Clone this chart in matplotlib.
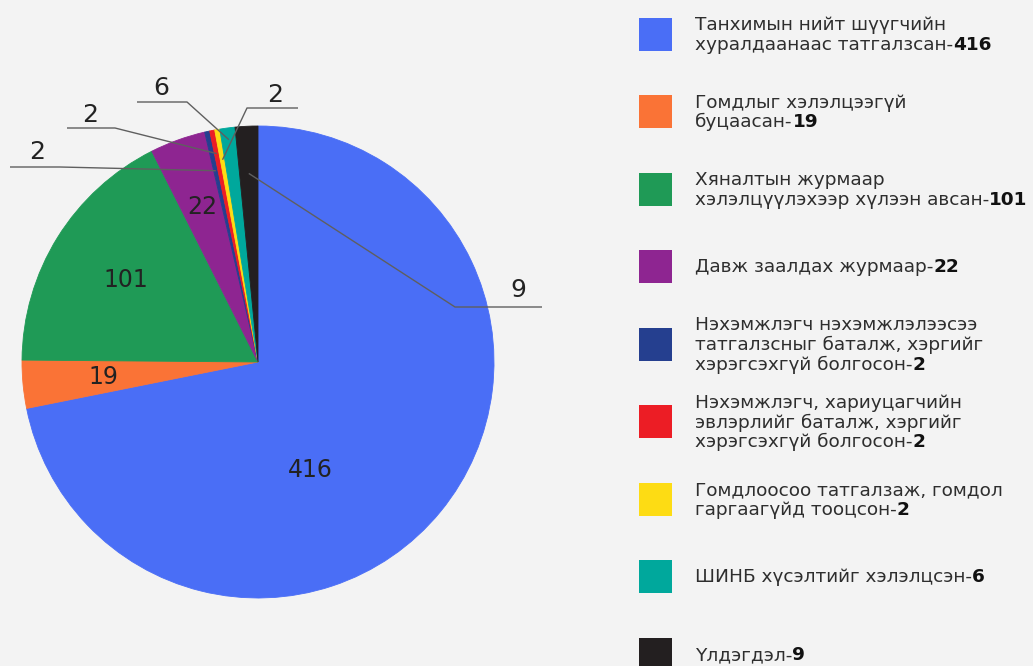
import matplotlib
matplotlib.use('Agg')
import matplotlib.pyplot as plt
import numpy as np

# Chart data
values = [416, 19, 101, 22, 2, 2, 2, 6, 9]
colors = ['#4a6ef6', '#fa7336', '#1f9a56', '#8e2591', '#253f8f',
          '#ec1d25', '#fddc14', '#00a89c', '#231f20']
legend_lines = [
    ['Танхимын нийт шүүгчийн', 'хуралдаанаас татгалзсан-'],
    ['Гомдлыг хэлэлцээгүй', 'буцаасан-'],
    ['Хяналтын журмаар', 'хэлэлцүүлэхээр хүлээн авсан-'],
    ['Давж заалдах журмаар-'],
    ['Нэхэмжлэгч нэхэмжлэлээсээ', 'татгалзсныг баталж, хэргийг', 'хэрэгсэхгүй болгосон-'],
    ['Нэхэмжлэгч, хариуцагчийн', 'эвлэрлийг баталж, хэргийг', 'хэрэгсэхгүй болгосон-'],
    ['Гомдлоосоо татгалзаж, гомдол', 'гаргаагүйд тооцсон-'],
    ['ШИНБ хүсэлтийг хэлэлцсэн-'],
    ['Үлдэгдэл-'],
]
labels = [str(v) for v in values]

W, H = 1033, 666
BG = '#f3f3f3'
TXT = '#2e2e2e'

fig = plt.figure(figsize=(W / 100, H / 100), dpi=100, facecolor=BG)
ax = fig.add_axes([0, 0, 1, 1])
ax.set_facecolor(BG)

# pie in pixel units (y up)
cx, cy, R = 258, H - 362, 236
wedges, _ = ax.pie(values, colors=colors, startangle=90, counterclock=False,
                   radius=R, center=(cx, cy))
for w, c in zip(wedges, colors):
    w.set_edgecolor(c)
    w.set_linewidth(0.6)
ax.set_xlim(0, W)
ax.set_ylim(0, H)
ax.set_aspect('equal')
ax.axis('off')


def polar(theta_deg, r):
    t = np.deg2rad(theta_deg)
    return cx + r * np.cos(t), cy + r * np.sin(t)


# inside labels: index -> (radius fraction, angle shift from wedge middle)
inside = {0: (0.51, -25), 1: (0.66, 0), 2: (0.66, 0), 3: (0.70, 0)}
for i, (frac, shift) in inside.items():
    w = wedges[i]
    mid = (w.theta1 + w.theta2) / 2 + shift
    x, y = polar(mid, R * frac)
    ax.text(x, y, labels[i], ha='center', va='center', fontsize=17, color='#222222')

# outside labels with leader lines: index -> (text x, text y, hline x0, hline x1, hline y, anchor r frac)
outside = {
    4: (37, 152, 10, 60, 167, 0.83),
    5: (90, 115, 67, 115, 128, 0.90),
    7: (161, 88, 137, 187, 102, 0.95),
    6: (275, 95, 298, 247, 108, 0.87),
    8: (518, 290, 542, 455, 307, 0.80),
}
for i, (tx, ty, x0, x1, hy, frac) in outside.items():
    w = wedges[i]
    mid = (w.theta1 + w.theta2) / 2
    axp, ayp = polar(mid, R * frac)
    ax.plot([x0, x1, axp], [H - hy, H - hy, ayp], color='#5f5f5f', lw=1.0,
            solid_capstyle='butt', zorder=5)
    ax.text(tx, H - ty, labels[i], ha='center', va='center', fontsize=18, color='#222222')

# legend
renderer = fig.canvas.get_renderer()
sq = 33
lx, tx0 = 639, 695
for k, (lines, col) in enumerate(zip(legend_lines, colors)):
    yc = 34 + 77.5 * k
    ax.add_patch(plt.Rectangle((lx, H - yc - sq / 2), sq, sq, facecolor=col,
                               edgecolor='none', zorder=3))
    n = len(lines)
    for j, line in enumerate(lines):
        base = yc + 6 + (j - (n - 1) / 2) * 19.5
        t = ax.text(tx0, H - base, line, ha='left', va='baseline',
                    fontsize=13.3, color=TXT)
        if j == n - 1:
            bb = t.get_window_extent(renderer)
            ax.text(bb.x1, H - base, labels[k], ha='left', va='baseline',
                    fontsize=13.3, color='#111111', fontweight='bold')

fig.savefig('out.png', dpi=100, facecolor=BG)
